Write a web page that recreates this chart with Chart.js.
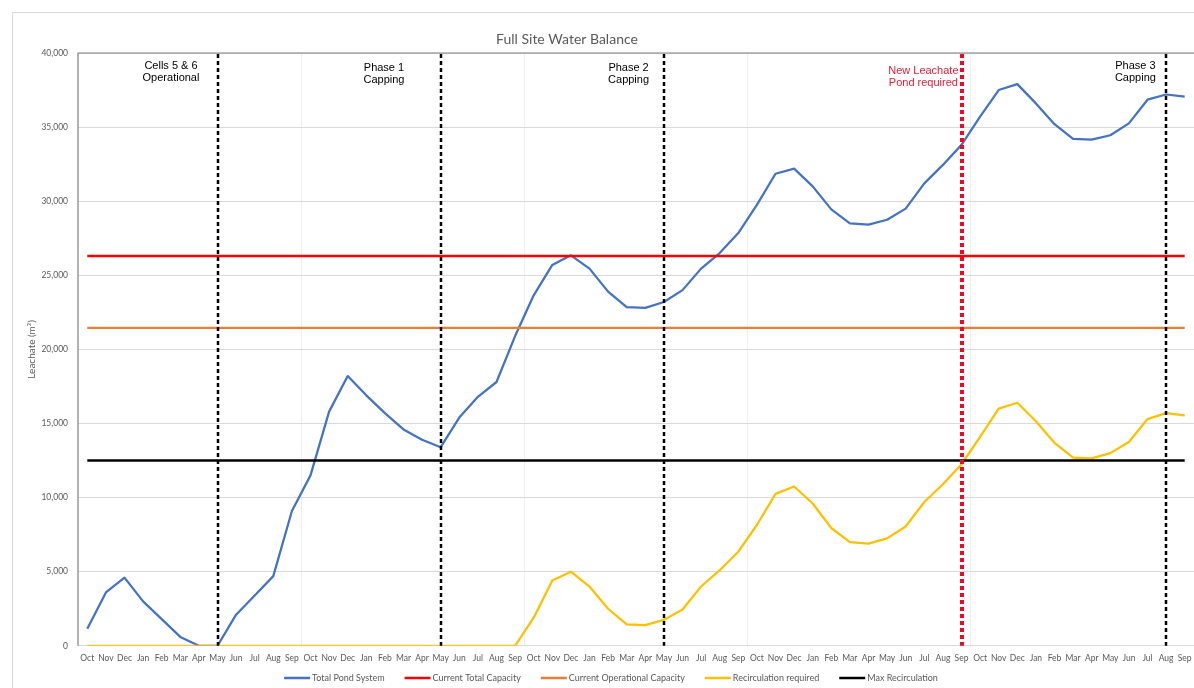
<!DOCTYPE html>
<html>
<head>
<meta charset="utf-8">
<script src="https://cdn.jsdelivr.net/npm/chart.js@4/dist/chart.umd.min.js"></script>
<style>
  html, body { margin: 0; padding: 0; background: #ffffff; }
  canvas { display: block; }
</style>
</head>
<body>
<canvas id="chart" width="1194" height="688"></canvas>
<script>
// Month labels for each water year (Oct - Sep), five years of the balance
const months = ['Oct', 'Nov', 'Dec', 'Jan', 'Feb', 'Mar', 'Apr', 'May', 'Jun', 'Jul', 'Aug', 'Sep'];
const categories = [].concat(months, months, months, months, months);

// Leachate volumes (m3), one value per month
const totalPondSystem = [
  1150, 3600, 4600, 3000, 1800, 600, 0, 0, 2100, 3400, 4700, 9100,
  11500, 15800, 18200, 16900, 15700, 14600, 13900, 13400, 15400, 16800, 17800, 20900,
  23650, 25700, 26350, 25450, 23900, 22850, 22800, 23200, 24000, 25450, 26500, 27850,
  29750, 31850, 32200, 31000, 29450, 28500, 28420, 28750, 29500, 31200, 32450, 33800,
  35700, 37500, 37900, 36600, 35200, 34200, 34150, 34450, 35250, 36850, 37200, 37050
];
const recirculationRequired = [
  0, 0, 0, 0, 0, 0, 0, 0, 0, 0, 0, 0,
  0, 0, 0, 0, 0, 0, 0, 0, 0, 0, 0, 0,
  1900, 4400, 5000, 4000, 2500, 1450, 1400, 1750, 2450, 4000, 5100, 6350,
  8150, 10250, 10750, 9600, 7950, 7000, 6900, 7250, 8050, 9700, 10900, 12250,
  14100, 16000, 16400, 15150, 13700, 12700, 12650, 13000, 13750, 15300, 15700, 15550
];

// Fixed capacities (m3)
const currentTotalCapacity = 26300;
const currentOperationalCapacity = 21450;
const maxRecirculation = 12500;

// Y axis ticks
const yTicks = [0, 5000, 10000, 15000, 20000, 25000, 30000, 35000, 40000];

// Milestones: month index of the marker line and its caption
const milestoneMonths = [7, 19, 31, 47, 58];
const milestoneText = [
  ['Cells 5 & 6', 'Operational'],
  ['Phase 1', 'Capping'],
  ['Phase 2', 'Capping'],
  ['New Leachate', 'Pond required'],
  ['Phase 3', 'Capping']
];

// Drawing style for each milestone (caption centre given in category units)
const milestoneStyle = [
  { color: '#000000', width: 2.5, dash: [4, 3], textColor: '#000000', textAt: 4.5, textTop: 66 },
  { color: '#000000', width: 2.5, dash: [4, 3], textColor: '#000000', textAt: 15.95, textTop: 68 },
  { color: '#000000', width: 2.5, dash: [4, 3], textColor: '#000000', textAt: 29.1, textTop: 68 },
  { color: '#ee0a24', width: 4, dash: [4, 3], textColor: '#e0203a', textAt: 44.95, textTop: 71 },
  { color: '#000000', width: 2.5, dash: [4, 3], textColor: '#000000', textAt: 56.35, textTop: 66 }
];

const flat = v => categories.map(() => v);

const fontFamily = 'Lato, "Open Sans", sans-serif';
const axisFont = { family: fontFamily, size: 8.5 };
const grey = '#595959';

const decorations = {
  id: 'decorations',
  beforeDraw(chart) {
    const ctx = chart.ctx;
    ctx.save();
    ctx.fillStyle = '#ffffff';
    ctx.fillRect(0, 0, chart.width, chart.height);
    // outer chart frame
    ctx.strokeStyle = '#d9d9d9';
    ctx.lineWidth = 1;
    ctx.strokeRect(12.5, 12.5, chart.width + 10, chart.height + 10);
    // title
    ctx.fillStyle = grey;
    ctx.font = '14px ' + fontFamily;
    ctx.textAlign = 'center';
    ctx.textBaseline = 'middle';
    ctx.fillText('Full Site Water Balance', 567, 39);
    ctx.restore();
  },
  afterDatasetsDraw(chart) {
    const ctx = chart.ctx;
    const area = chart.chartArea;
    const x = chart.scales.x;
    ctx.save();
    // plot area border
    ctx.strokeStyle = '#808080';
    ctx.lineWidth = 1.2;
    ctx.beginPath();
    ctx.moveTo(area.left, area.bottom);
    ctx.lineTo(area.left, area.top);
    ctx.lineTo(chart.width, area.top);
    ctx.stroke();

    milestoneMonths.forEach((m, i) => {
      const st = milestoneStyle[i];
      const px = Math.round(x.getPixelForValue(m));
      ctx.strokeStyle = st.color;
      ctx.lineWidth = st.width;
      ctx.setLineDash(st.dash);
      ctx.beginPath();
      ctx.moveTo(px, area.top + 1);
      ctx.lineTo(px, area.bottom);
      ctx.stroke();
      ctx.setLineDash([]);

      ctx.fillStyle = st.textColor;
      ctx.font = '11px "Liberation Sans", Arial, sans-serif';
      ctx.textAlign = 'center';
      ctx.textBaseline = 'middle';
      const tx = x.getPixelForValue(st.textAt);
      milestoneText[i].forEach((line, k) => {
        ctx.fillText(line, tx, st.textTop + k * 12);
      });
    });

    // legend row along the bottom, built from the datasets
    const sample = 26, gap = 2, spacing = 20, legendY = 678, legendCentre = 611;
    ctx.font = '9px ' + fontFamily;
    ctx.textBaseline = 'middle';
    ctx.textAlign = 'left';
    const items = chart.data.datasets.map(ds => ({
      ds, w: sample + gap + ctx.measureText(ds.label).width
    }));
    const total = items.reduce((s, it) => s + it.w, 0) + spacing * (items.length - 1);
    let lx = legendCentre - total / 2;
    items.forEach(it => {
      ctx.strokeStyle = it.ds.borderColor;
      ctx.lineWidth = 2.5;
      ctx.beginPath();
      ctx.moveTo(lx, legendY);
      ctx.lineTo(lx + sample, legendY);
      ctx.stroke();
      ctx.fillStyle = grey;
      ctx.fillText(it.ds.label, lx + sample + gap, legendY);
      lx += it.w + spacing;
    });
    ctx.restore();
  }
};

new Chart(document.getElementById('chart'), {
  type: 'line',
  data: {
    labels: categories,
    datasets: [
      { label: 'Total Pond System', data: totalPondSystem, borderColor: '#4472c4', backgroundColor: '#4472c4', borderWidth: 2.25, order: 5 },
      { label: 'Current Total Capacity', data: flat(currentTotalCapacity), borderColor: '#ff0000', backgroundColor: '#ff0000', borderWidth: 2.5, order: 4 },
      { label: 'Current Operational Capacity', data: flat(currentOperationalCapacity), borderColor: '#ed7d31', backgroundColor: '#ed7d31', borderWidth: 2.25, order: 3 },
      { label: 'Recirculation required', data: recirculationRequired, borderColor: '#ffc000', backgroundColor: '#ffc000', borderWidth: 2.25, order: 2 },
      { label: 'Max Recirculation', data: flat(maxRecirculation), borderColor: '#000000', backgroundColor: '#000000', borderWidth: 2.5, order: 1 }
    ]
  },
  options: {
    responsive: false,
    animation: false,
    devicePixelRatio: 1,
    layout: { padding: { top: 53, left: 26, right: 0, bottom: 18 } },
    elements: {
      point: { radius: 0, hoverRadius: 0 },
      line: { tension: 0, borderJoinStyle: 'round', borderCapStyle: 'butt' }
    },
    scales: {
      x: {
        type: 'category',
        offset: true,
        afterFit: s => { s.paddingLeft = 0; s.paddingRight = 0; },
        grid: {
          offset: true,
          drawTicks: false,
          color: c => (c.index > 0 && c.index % 12 === 0) ? '#efefef' : 'rgba(0,0,0,0)'
        },
        border: { display: false },
        ticks: { autoSkip: false, maxRotation: 0, minRotation: 0, padding: 7, color: grey, font: axisFont }
      },
      y: {
        min: 0,
        max: 40000,
        afterBuildTicks: s => { s.ticks = yTicks.map(v => ({ value: v })); },
        afterFit: s => { s.width = 52; },
        grid: { drawTicks: false, color: '#d9d9d9' },
        border: { display: false },
        title: { display: true, text: 'Leachate (m³)', color: grey, font: { family: fontFamily, size: 10 }, padding: { top: 0, bottom: 0 } },
        ticks: {
          padding: 10,
          color: grey,
          font: axisFont,
          callback: v => v.toLocaleString('en-US')
        }
      }
    },
    plugins: {
      title: { display: false },
      tooltip: { enabled: false },
      legend: { display: false }
    }
  },
  plugins: [decorations]
});
</script>
</body>
</html>
